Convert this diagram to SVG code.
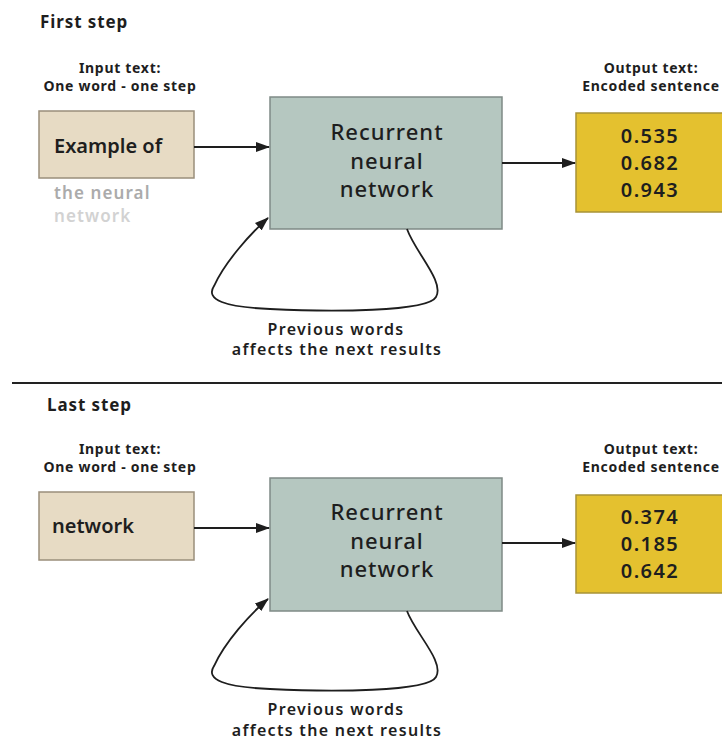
<svg xmlns="http://www.w3.org/2000/svg" width="722" height="743" viewBox="0 0 722 743">
<style>
text{font-family:"Noto Sans","Open Sans","Liberation Sans",sans-serif;fill:#1e1e1e}
.title{font-size:17px;font-weight:700;letter-spacing:0.9px}
.cap{font-size:14px;font-weight:700;text-anchor:middle;letter-spacing:0.7px}
.in{fill:#e7dbc4;stroke:#9a8f7b;stroke-width:1.5}
.rnn{fill:#b5c7c0;stroke:#7f8a86;stroke-width:1.5}
.out{fill:#e4c12f;stroke:#a89337;stroke-width:1.5}
.big{font-size:20px;font-weight:600}
.fade{font-size:17px;font-weight:600;letter-spacing:1.1px}
.rn{font-size:22px;font-weight:500;text-anchor:middle;letter-spacing:1px}
.val{font-size:20px;font-weight:600;text-anchor:middle;letter-spacing:1.4px}
.lbl{font-size:16px;font-weight:600;text-anchor:middle;letter-spacing:1.3px}
.con{fill:none;stroke:#1e1e1e;stroke-width:1.8}
</style>
<defs>
<marker id="ah" markerWidth="14" markerHeight="10" refX="13" refY="5" orient="auto" markerUnits="userSpaceOnUse">
<path d="M0,0 L14,5 L0,10 Z" fill="#1e1e1e"/>
</marker>
</defs>
<rect width="722" height="743" fill="#fff"/>

<g id="section1">
<text class="title" x="40" y="28">First step</text>
<text class="cap" x="120" y="73">Input text:</text>
<text class="cap" x="120" y="91">One word - one step</text>
<text class="cap" x="651" y="73">Output text:</text>
<text class="cap" x="651" y="91">Encoded sentence</text>
</g>
<g id="input1">
<rect class="in" x="39" y="111" width="155" height="67"/>
<text class="big" x="54" y="153">Example of</text>
<text class="fade" x="54" y="199" style="fill:#ababab">the neural</text>
<text class="fade" x="54" y="222" style="fill:#d2d2d2">network</text>
</g>
<g id="rnn1">
<rect class="rnn" x="270" y="97" width="232" height="132"/>
<text class="rn" x="387" y="140">Recurrent</text>
<text class="rn" x="387" y="169">neural</text>
<text class="rn" x="387" y="197">network</text>
</g>
<g id="output1">
<rect class="out" x="576" y="113" width="150" height="99"/>
<text class="val" x="650" y="143">0.535</text>
<text class="val" x="650" y="170">0.682</text>
<text class="val" x="650" y="197">0.943</text>
</g>
<g id="loop1label">
<text class="lbl" x="336" y="335">Previous words</text>
<text class="lbl" x="337" y="355">affects the next results</text>
</g>

<line x1="12" y1="383" x2="722" y2="383" stroke="#222" stroke-width="2"/>

<g id="section2">
<text class="title" x="47" y="411">Last step</text>
<text class="cap" x="120" y="454">Input text:</text>
<text class="cap" x="120" y="472">One word - one step</text>
<text class="cap" x="651" y="454">Output text:</text>
<text class="cap" x="651" y="472">Encoded sentence</text>
</g>
<g id="input2">
<rect class="in" x="39" y="492" width="155" height="68"/>
<text class="big" x="52" y="533">network</text>
</g>
<g id="rnn2">
<rect class="rnn" x="270" y="478" width="232" height="133"/>
<text class="rn" x="387" y="520">Recurrent</text>
<text class="rn" x="387" y="549">neural</text>
<text class="rn" x="387" y="577">network</text>
</g>
<g id="output2">
<rect class="out" x="576" y="495" width="150" height="98"/>
<text class="val" x="650" y="524">0.374</text>
<text class="val" x="650" y="551">0.185</text>
<text class="val" x="650" y="578">0.642</text>
</g>
<g id="loop2label">
<text class="lbl" x="336" y="715">Previous words</text>
<text class="lbl" x="337" y="736">affects the next results</text>
</g>

<g id="connectors">
<line class="con" x1="194" y1="147" x2="269" y2="147" marker-end="url(#ah)"/>
<line class="con" x1="502" y1="163" x2="575" y2="163" marker-end="url(#ah)"/>
<path class="con" d="M407,229 C415,252 445,282 436,297 C428,312 330,312 270,309 C225,307 205,300 214,286 C225,262 250,234 268,218" marker-end="url(#ah)"/>
<line class="con" x1="194" y1="528" x2="269" y2="528" marker-end="url(#ah)"/>
<line class="con" x1="502" y1="543" x2="575" y2="543" marker-end="url(#ah)"/>
<path class="con" d="M407,611 C415,633 445,662 436,677 C428,692 330,692 270,689 C225,687 205,680 214,666 C225,642 250,614 268,599" marker-end="url(#ah)"/>
</g>
</svg>
